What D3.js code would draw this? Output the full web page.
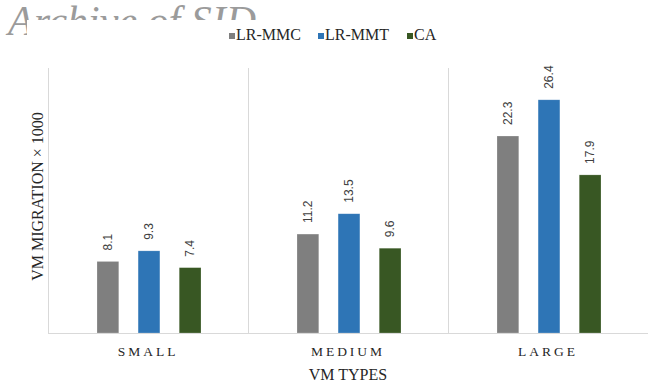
<!DOCTYPE html>
<html>
<head>
<meta charset="utf-8">
<script src="https://cdn.jsdelivr.net/npm/d3@7"></script>
<style>
  html, body { margin: 0; padding: 0; background: #fff; }
  svg { display: block; }
</style>
</head>
<body>
<svg id="chart" width="648" height="386"></svg>
<script>
// VM migrations (in thousands) per VM type and placement method
const categories = ["SMALL", "MEDIUM", "LARGE"];
const seriesNames = ["LR-MMC", "LR-MMT", "CA"];
const lrMmc = [8.1, 11.2, 22.3];
const lrMmt = [9.3, 13.5, 26.4];
const ca = [7.4, 9.6, 17.9];
const seriesColors = ["#7f7f7f", "#2e75b6", "#385723"];

const seriesValues = [lrMmc, lrMmt, ca];
const rows = categories.map((c, i) => ({
  category: c,
  values: seriesNames.map((s, j) => ({ series: s, value: seriesValues[j][i], color: seriesColors[j] }))
}));

const serif = "'Liberation Serif', 'Times New Roman', serif";
const sans = "'Liberation Sans', Arial, sans-serif";

const svg = d3.select("#chart");
const W = 648, H = 386;
const plot = { left: 48, right: 648, top: 68, bottom: 333 };

// faded watermark in the top-left corner, partly hidden by the chart area
svg.append("text")
  .attr("x", 8).attr("y", 35)
  .style("font-family", serif)
  .style("font-style", "italic")
  .style("font-size", "42px")
  .attr("fill", "#9b9b9b")
  .text("Archive of SID");
svg.append("rect")
  .attr("x", 27).attr("y", 20).attr("width", W - 27).attr("height", H - 20)
  .attr("fill", "#fff");

const x0 = d3.scaleBand().domain(categories).range([plot.left, plot.right]).padding(0);
const x1 = d3.scaleBand().domain(seriesNames).range([49, 153]).paddingInner(0.47).paddingOuter(0);
const y = d3.scaleLinear().domain([0, 30]).range([plot.bottom, plot.top]);

// category separators
const sepX = categories.map(c => x0(c)).concat([plot.right - 0.5]);
svg.append("g").selectAll("line").data(sepX).join("line")
  .attr("x1", d => Math.round(d) + 0.5).attr("x2", d => Math.round(d) + 0.5)
  .attr("y1", plot.top).attr("y2", plot.bottom)
  .attr("stroke", "#d9d9d9").attr("stroke-width", 1);

// bars
const groups = svg.append("g").selectAll("g").data(rows).join("g")
  .attr("transform", d => `translate(${x0(d.category)},0)`);

groups.selectAll("rect").data(d => d.values).join("rect")
  .attr("x", d => x1(d.series))
  .attr("y", d => y(d.value))
  .attr("width", x1.bandwidth())
  .attr("height", d => y(0) - y(d.value))
  .attr("fill", d => d.color)
  .attr("stroke", "#ffffff")
  .attr("stroke-opacity", 0.35)
  .attr("stroke-width", 0.6);

// value labels, rotated above each bar
groups.selectAll("text").data(d => d.values).join("text")
  .attr("transform", d => `translate(${x1(d.series) + x1.bandwidth() / 2},${y(d.value) - 11}) rotate(-90)`)
  .attr("dy", "0.35em")
  .attr("text-anchor", "start")
  .style("font-family", sans)
  .style("font-size", "12px")
  .attr("fill", "#404040")
  .text(d => d.value.toFixed(1));

// x axis baseline and category labels
const xAxis = d3.axisBottom(x0).tickSize(0).tickPadding(13);
const gx = svg.append("g").attr("transform", `translate(0,${plot.bottom})`).call(xAxis);
gx.attr("font-family", null).attr("font-size", null);
gx.select(".domain").attr("stroke", "#d9d9d9").attr("d", `M${plot.left},0.5H${plot.right}`);
gx.selectAll(".tick text")
  .style("font-family", serif)
  .style("font-size", "13.5px")
  .style("letter-spacing", "3px")
  .attr("fill", "#262626");

// axis titles
svg.append("text")
  .attr("x", (plot.left + plot.right) / 2).attr("y", 380)
  .attr("text-anchor", "middle")
  .style("font-family", serif)
  .style("font-size", "16px")
  .attr("fill", "#262626")
  .text("VM TYPES");

svg.append("text")
  .attr("transform", `translate(43,${(plot.top + plot.bottom) / 2 - 4}) rotate(-90)`)
  .attr("text-anchor", "middle")
  .style("font-family", serif)
  .style("font-size", "16px")
  .attr("fill", "#262626")
  .text("VM MIGRATION × 1000");

// legend
const legendX = [229, 318, 407];
const legend = svg.append("g").selectAll("g").data(seriesNames).join("g")
  .attr("transform", (d, i) => `translate(${legendX[i]},0)`);
legend.append("rect")
  .attr("x", 0).attr("y", 33).attr("width", 6).attr("height", 6)
  .attr("fill", (d, i) => seriesColors[i]);
legend.append("text")
  .attr("x", 7).attr("y", 40)
  .style("font-family", serif)
  .style("font-size", "16px")
  .attr("fill", "#262626")
  .text(d => d);
</script>
</body>
</html>
